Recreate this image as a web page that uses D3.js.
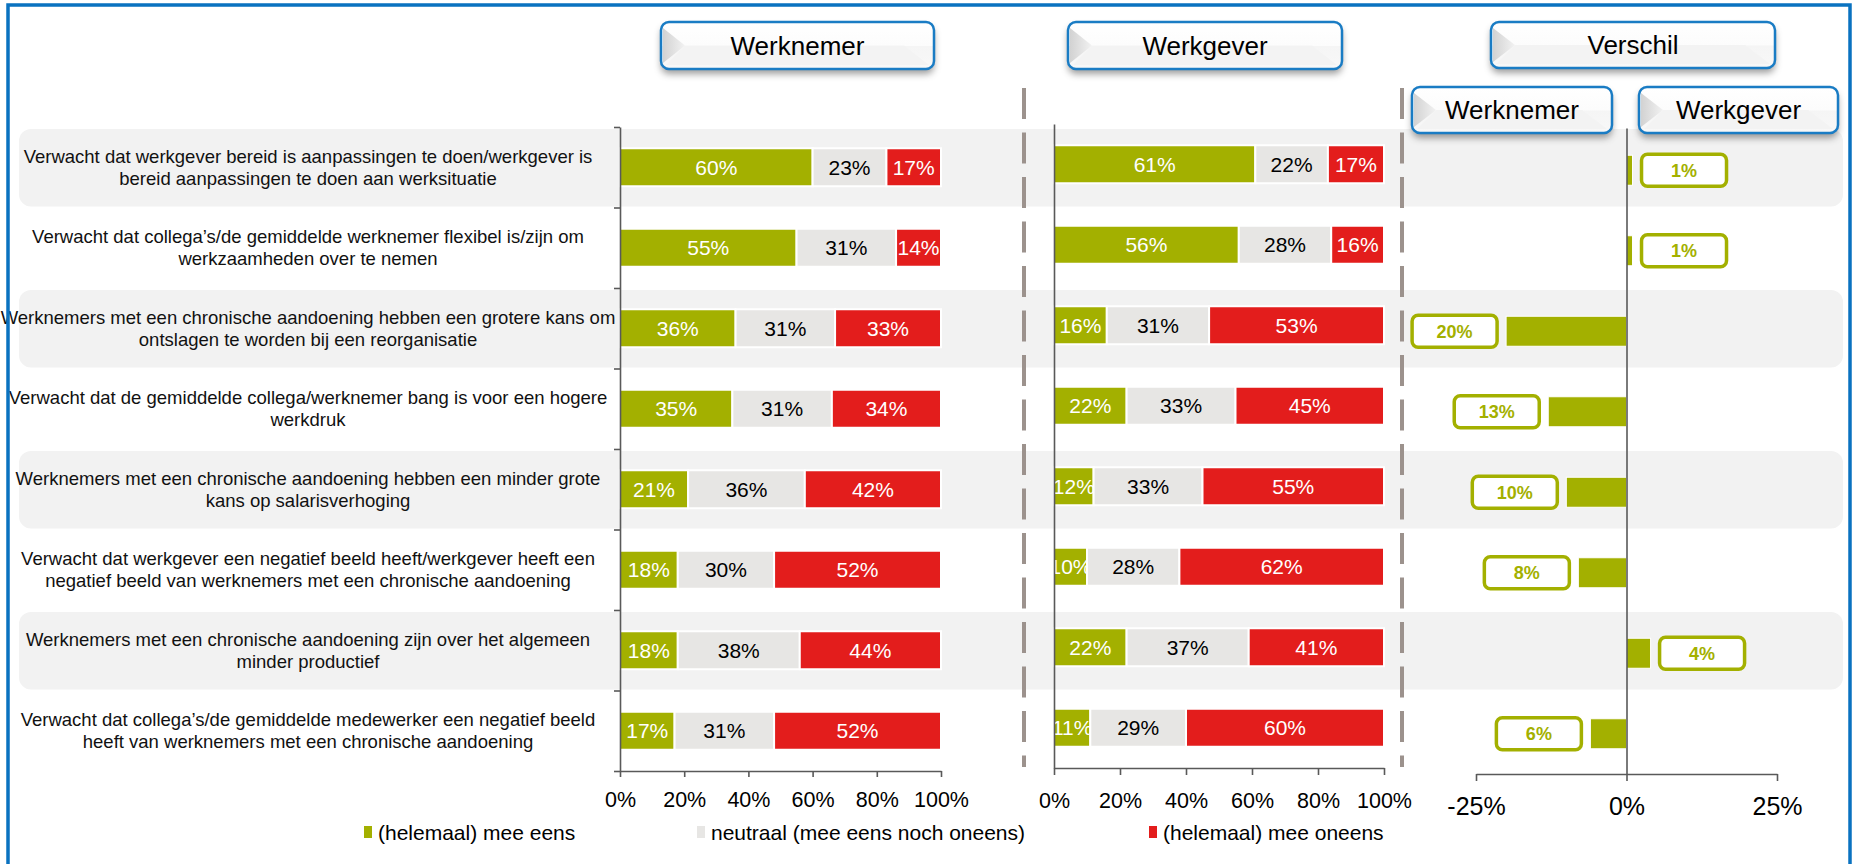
<!DOCTYPE html>
<html>
<head>
<meta charset="utf-8">
<script src="https://cdn.jsdelivr.net/npm/d3@7"></script>
<style>
  body { margin: 0; background: #fff; overflow: hidden; }
  svg { display: block; font-family: "Liberation Sans", Arial, sans-serif; }
</style>
</head>
<body>
<svg id="chart"></svg>
<script>
// stellingen, two lines each (split on "|")
const categories = [
    "Verwacht dat werkgever bereid is aanpassingen te doen/werkgever is|bereid aanpassingen te doen aan werksituatie",
    "Verwacht dat collega’s/de gemiddelde werknemer flexibel is/zijn om|werkzaamheden over te nemen",
    "Werknemers met een chronische aandoening hebben een grotere kans om|ontslagen te worden bij een reorganisatie",
    "Verwacht dat de gemiddelde collega/werknemer bang is voor een hogere|werkdruk",
    "Werknemers met een chronische aandoening hebben een minder grote|kans op salarisverhoging",
    "Verwacht dat werkgever een negatief beeld heeft/werkgever heeft een|negatief beeld van werknemers met een chronische aandoening",
    "Werknemers met een chronische aandoening zijn over het algemeen|minder productief",
    "Verwacht dat collega’s/de gemiddelde medewerker een negatief beeld|heeft van werknemers met een chronische aandoening"
];

const seriesNames = ["(helemaal) mee eens", "neutraal (mee eens noch oneens)", "(helemaal) mee oneens"];

const werknemerAgree    = [60, 55, 36, 35, 21, 18, 18, 17];
const werknemerNeutral  = [23, 31, 31, 31, 36, 30, 38, 31];
const werknemerDisagree = [17, 14, 33, 34, 42, 52, 44, 52];

const werkgeverAgree    = [61, 56, 16, 22, 12, 10, 22, 11];
const werkgeverNeutral  = [22, 28, 31, 33, 33, 28, 37, 29];
const werkgeverDisagree = [17, 16, 53, 45, 55, 62, 41, 60];

// verschil in "mee eens" (werkgever - werknemer)
const verschil = [1, 1, -20, -13, -10, -8, 4, -6];

const pctTicks = [0, 20, 40, 60, 80, 100];
const diffTicks = [-25, 0, 25];

const colors = ["#a3b000", "#e7e6e4", "#e31d1c"];
const keys = ["agree", "neutral", "disagree"];

const svgWidth = 1853;
const svgHeight = 864;
const axisColor = "#595959";

const svg = d3.select("#chart")
    .attr("width", svgWidth)
    .attr("height", svgHeight);

const defs = svg.append("defs");
const shadow = defs.append("filter").attr("id", "shadow")
    .attr("x", "-10%").attr("y", "-20%").attr("width", "120%").attr("height", "170%");
shadow.append("feDropShadow")
    .attr("dx", 0).attr("dy", 5).attr("stdDeviation", 3.5)
    .attr("flood-color", "#000").attr("flood-opacity", 0.38);

const boxGrad = defs.append("linearGradient").attr("id", "boxGrad")
    .attr("x1", 0).attr("y1", 0).attr("x2", 0).attr("y2", 1);
boxGrad.append("stop").attr("offset", "0%").attr("stop-color", "#ffffff");
boxGrad.append("stop").attr("offset", "50%").attr("stop-color", "#fcfcfc");
boxGrad.append("stop").attr("offset", "52%").attr("stop-color", "#f5f5f5");
boxGrad.append("stop").attr("offset", "100%").attr("stop-color", "#f8f8f8");

const chevGrad = defs.append("linearGradient").attr("id", "chevGrad")
    .attr("x1", 0).attr("y1", 0).attr("x2", 1).attr("y2", 0);
chevGrad.append("stop").attr("offset", "0%").attr("stop-color", "#d2d2d2");
chevGrad.append("stop").attr("offset", "100%").attr("stop-color", "#f2f2f2");

// scales
const xLeft = d3.scaleLinear().domain([0, 100]).range([620, 941]);
const xMid = d3.scaleLinear().domain([0, 100]).range([1054, 1384]);
const xDiff = d3.scaleLinear().domain([-25, 25]).range([1476, 1777]);

const idx = d3.range(categories.length);
const yLeft = d3.scaleBand().domain(idx).range([127, 771]);
const yMid = d3.scaleBand().domain(idx).range([124, 768]);
const yDiff = d3.scaleBand().domain(idx).range([130, 774]);

// row backgrounds
svg.append("g")
    .selectAll("rect")
    .data(idx.filter(i => i % 2 === 0))
    .join("rect")
    .attr("x", 19)
    .attr("y", i => yLeft(i) + 2)
    .attr("width", 1824)
    .attr("height", yLeft.bandwidth() - 3)
    .attr("rx", 12)
    .attr("fill", "#f2f2f2");

// dashed separators
svg.append("g")
    .selectAll("line")
    .data([xMid(0) - 30, xDiff(-25) - 74])
    .join("line")
    .attr("x1", d => d).attr("x2", d => d)
    .attr("y1", 88).attr("y2", 767)
    .attr("stroke", "#9c928d")
    .attr("stroke-width", 4)
    .attr("stroke-dasharray", "31 13.5");

// category labels
const labels = svg.append("g")
    .attr("font-size", "18.5px")
    .attr("fill", "#111");
categories.forEach((c, i) => {
    const lines = c.split("|");
    const cy = yLeft(i) + yLeft.bandwidth() / 2;
    lines.forEach((t, j) => {
        labels.append("text")
            .attr("x", 308)
            .attr("y", cy + (j - (lines.length - 1) / 2) * 22 + 6.5)
            .attr("text-anchor", "middle")
            .text(t);
    });
});

function makeRows(a, n, d) {
    return idx.map(i => ({ i: i, agree: a[i], neutral: n[i], disagree: d[i] }));
}

const stack = d3.stack().keys(keys).offset(d3.stackOffsetExpand);

function drawStacked(rows, x, y, barH) {
    const series = stack(rows);
    const g = svg.append("g");
    series.forEach((s, k) => {
        const sg = g.append("g");
        sg.selectAll("rect")
            .data(s)
            .join("rect")
            .attr("x", d => x(d[0] * 100))
            .attr("y", d => y(d.data.i) + (y.bandwidth() - barH) / 2)
            .attr("width", d => x(d[1] * 100) - x(d[0] * 100))
            .attr("height", barH)
            .attr("fill", colors[k])
            .attr("stroke", "#fff")
            .attr("stroke-width", 2);
        sg.selectAll("text")
            .data(s)
            .join("text")
            .attr("x", d => (x(d[0] * 100) + x(d[1] * 100)) / 2)
            .attr("y", d => y(d.data.i) + y.bandwidth() / 2 + 7.5)
            .attr("text-anchor", "middle")
            .attr("font-size", "21px")
            .attr("fill", k === 1 ? "#000" : "#fff")
            .text(d => d.data[keys[k]] + "%");
    });
}

drawStacked(makeRows(werknemerAgree, werknemerNeutral, werknemerDisagree), xLeft, yLeft, 38);
drawStacked(makeRows(werkgeverAgree, werkgeverNeutral, werkgeverDisagree), xMid, yMid, 38);

// verschil bars
const diffG = svg.append("g");
diffG.selectAll("rect")
    .data(verschil)
    .join("rect")
    .attr("x", d => xDiff(Math.min(0, d)))
    .attr("y", (d, i) => yDiff(i) + yDiff.bandwidth() / 2 - 15)
    .attr("width", d => Math.abs(xDiff(d) - xDiff(0)))
    .attr("height", 30)
    .attr("fill", colors[0])
    .attr("stroke", "#fff")
    .attr("stroke-width", 1);

const boxW = 85, boxH = 32;
const diffLabels = diffG.selectAll("g.lab")
    .data(verschil)
    .join("g")
    .attr("class", "lab")
    .attr("transform", (d, i) => {
        const bx = d >= 0 ? xDiff(d) + 9 : xDiff(d) - 9 - boxW;
        return `translate(${bx},${yDiff(i) + yDiff.bandwidth() / 2 - boxH / 2})`;
    });
diffLabels.append("rect")
    .attr("width", boxW)
    .attr("height", boxH)
    .attr("rx", 6)
    .attr("fill", "#fff")
    .attr("stroke", colors[0])
    .attr("stroke-width", 3.5);
diffLabels.append("text")
    .attr("x", boxW / 2)
    .attr("y", boxH / 2 + 6.5)
    .attr("text-anchor", "middle")
    .attr("font-size", "18px")
    .attr("font-weight", "bold")
    .attr("fill", colors[0])
    .text(d => Math.abs(d) + "%");

// axes
function styleAxis(g, fontSize) {
    g.selectAll(".domain").attr("stroke", axisColor).attr("stroke-width", 1.6);
    g.selectAll(".tick line").attr("stroke", axisColor).attr("stroke-width", 1.6);
    g.selectAll("text")
        .attr("font-family", "Liberation Sans, Arial, sans-serif")
        .attr("font-size", fontSize)
        .attr("fill", "#000");
}

const yLeftLin = d3.scaleLinear().domain([0, categories.length]).range(yLeft.range());
svg.append("g")
    .attr("transform", `translate(${xLeft(0)},0)`)
    .call(d3.axisLeft(yLeftLin).tickValues(d3.range(categories.length + 1)).tickSize(6).tickSizeOuter(0).tickFormat(""))
    .call(g => styleAxis(g, "21px"));

svg.append("g")
    .attr("transform", `translate(0,${yLeft.range()[1]})`)
    .call(d3.axisBottom(xLeft).tickValues(pctTicks).tickSize(6).tickSizeOuter(0).tickPadding(15).tickFormat(d => d + "%"))
    .call(g => styleAxis(g, "21.5px"));

const yMidLin = d3.scaleLinear().domain([0, categories.length]).range(yMid.range());
svg.append("g")
    .attr("transform", `translate(${xMid(0)},0)`)
    .call(d3.axisLeft(yMidLin).tickValues([]).tickSizeOuter(0))
    .call(g => styleAxis(g, "21px"));

svg.append("g")
    .attr("transform", `translate(0,${yMid.range()[1]})`)
    .call(d3.axisBottom(xMid).tickValues(pctTicks).tickSize(7).tickSizeOuter(0).tickPadding(18).tickFormat(d => d + "%"))
    .call(g => styleAxis(g, "21.5px"));

const yDiffLin = d3.scaleLinear().domain([0, categories.length]).range([128, yDiff.range()[1]]);
svg.append("g")
    .attr("transform", `translate(${xDiff(0)},0)`)
    .call(d3.axisLeft(yDiffLin).tickValues([]).tickSizeOuter(0))
    .call(g => styleAxis(g, "21px"));

svg.append("g")
    .attr("transform", `translate(0,${yDiff.range()[1]})`)
    .call(d3.axisBottom(xDiff).tickValues(diffTicks).tickSize(7).tickSizeOuter(0).tickPadding(16).tickFormat(d => d + "%"))
    .call(g => styleAxis(g, "25px"));

// header boxes
const headers = [
    { label: "Werknemer", x: 661, y: 22, w: 273, h: 47 },
    { label: "Werkgever", x: 1068, y: 22, w: 274, h: 47 },
    { label: "Verschil", x: 1491, y: 22, w: 284, h: 46 },
    { label: "Werknemer", x: 1412, y: 87, w: 200, h: 46 },
    { label: "Werkgever", x: 1639, y: 87, w: 199, h: 46 }
];

const hg = svg.append("g")
    .selectAll("g")
    .data(headers)
    .join("g")
    .attr("transform", d => `translate(${d.x},${d.y})`);
hg.append("rect")
    .attr("width", d => d.w)
    .attr("height", d => d.h)
    .attr("rx", 8)
    .attr("fill", "#fff")
    .attr("filter", "url(#shadow)");
hg.append("rect")
    .attr("width", d => d.w)
    .attr("height", d => d.h)
    .attr("rx", 8)
    .attr("fill", "url(#boxGrad)");
hg.append("path")
    .attr("d", d => `M2,6 L24,${d.h / 2} L2,${d.h - 6} Z`)
    .attr("fill", "url(#chevGrad)");
hg.append("path")
    .attr("d", d => `M24,${d.h / 2} L${d.w - 30},${d.h / 2} L${d.w - 5},${d.h - 4} L5,${d.h - 4} Z`)
    .attr("fill", "#f3f3f3");
hg.append("rect")
    .attr("width", d => d.w)
    .attr("height", d => d.h)
    .attr("rx", 8)
    .attr("fill", "none")
    .attr("stroke", "#1a7cc4")
    .attr("stroke-width", 2.5);
hg.append("text")
    .attr("x", d => d.w / 2)
    .attr("y", d => d.h / 2 + 9)
    .attr("text-anchor", "middle")
    .attr("font-size", "26px")
    .attr("fill", "#000")
    .text(d => d.label);

// legend
const legendX = [364, 697, 1149];
const lg = svg.append("g")
    .selectAll("g")
    .data(seriesNames)
    .join("g")
    .attr("transform", (d, i) => `translate(${legendX[i]},832)`);
lg.append("rect")
    .attr("x", 0).attr("y", -6)
    .attr("width", 8).attr("height", 12)
    .attr("fill", (d, i) => colors[i]);
lg.append("text")
    .attr("x", 14)
    .attr("y", 7.5)
    .attr("font-size", "21px")
    .attr("fill", "#000")
    .text(d => d);

// outer frame
svg.append("rect")
    .attr("x", 8).attr("y", 5)
    .attr("width", 1842).attr("height", 900)
    .attr("fill", "none")
    .attr("stroke", "#0a72c0")
    .attr("stroke-width", 3.5);
</script>
</body>
</html>
